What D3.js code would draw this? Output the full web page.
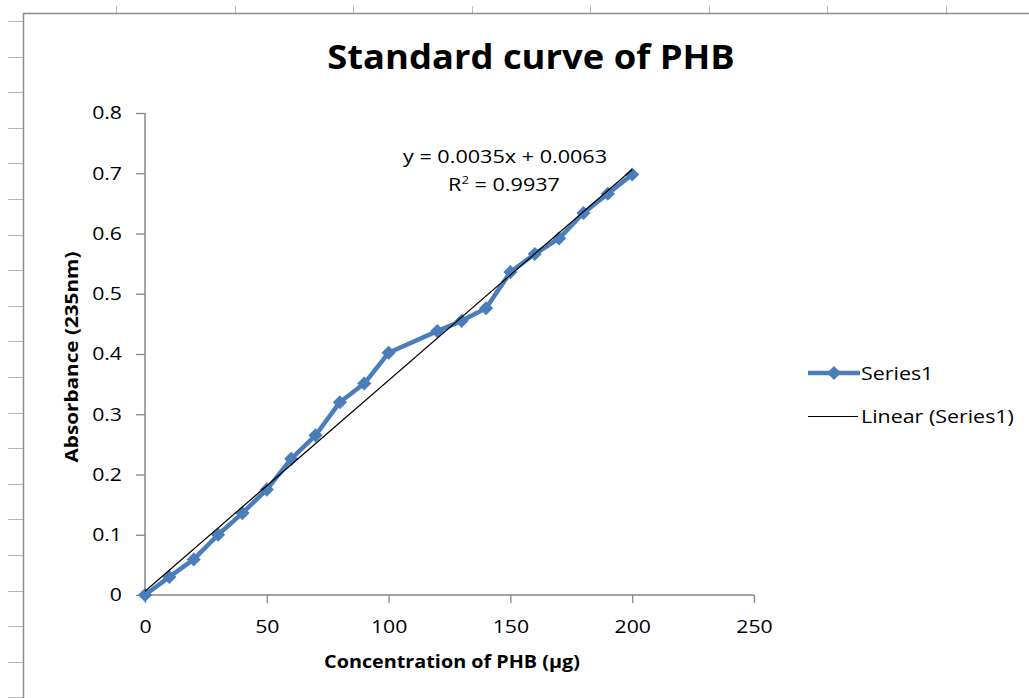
<!DOCTYPE html>
<meta charset="utf-8">
<style>
    body { margin: 0; background: #fff; }
    text { font-family: "Open Sans", sans-serif; fill: #000; }
</style>
<script src="https://d3js.org/d3.v7.min.js"></script>
<svg id="chart" width="1029" height="698"></svg>
<script>
    // measured values (concentration in µg, absorbance at 235nm)
    var concentration = [0, 10, 20, 30, 40, 50, 60, 70, 80, 90, 100, 120, 130, 140, 150, 160, 170, 180, 190, 200];
    var absorbance = [0, 0.030, 0.059, 0.100, 0.136, 0.175, 0.226, 0.265, 0.320, 0.351, 0.402, 0.438, 0.455, 0.476, 0.536, 0.566, 0.592, 0.634, 0.666, 0.698];
    var xTicks = [0, 50, 100, 150, 200, 250];
    var yTicks = [0, 0.1, 0.2, 0.3, 0.4, 0.5, 0.6, 0.7, 0.8];
    var slope = 0.0035, intercept = 0.0063;

    var svg = d3.select("#chart");
    var blue = "#4A7EBB";

    // the screenshot text is a bit wide, so stretch glyphs horizontally
    function label(txt, px, py, size, stretch, opts) {
        opts = opts || {};
        var t = svg.append("text")
            .attr("transform", "translate(" + px + "," + py + ")" + (opts.rotate ? " rotate(" + opts.rotate + ")" : "") + " scale(" + stretch + ",1)")
            .attr("text-anchor", opts.anchor || "middle")
            .style("font-size", size + "px")
            .style("font-weight", opts.bold ? "bold" : null);
        if (txt !== null) t.text(txt);
        return t;
    }

    // spreadsheet grid behind the chart
    var sheet = svg.append("g").attr("stroke", "#b8b8b8").attr("stroke-width", 1);
    d3.range(0, 20).forEach(function(i) {
        var y = Math.round(21 + i * 35.6) + 0.5;
        sheet.append("line").attr("x1", 8).attr("x2", 23).attr("y1", y).attr("y2", y);
    });
    d3.range(0, 8).forEach(function(i) {
        var x = Math.round(116 + i * 118.5) + 0.5;
        sheet.append("line").attr("x1", x).attr("x2", x).attr("y1", 6).attr("y2", 13);
    });
    // chart area border (left + top visible)
    svg.append("path")
        .attr("d", "M23.5,698 V13.5 H1029")
        .attr("fill", "none")
        .attr("stroke", "#8c8c8c")
        .attr("stroke-width", 1.5);

    var x = d3.scaleLinear().domain([0, 250]).range([145, 754]);
    var y = d3.scaleLinear().domain([0, 0.8]).range([595, 113]);

    var tickStretch = 1.18;
    // y axis
    var yAxis = svg.append("g")
        .attr("transform", "translate(145,0)")
        .call(d3.axisLeft(y).tickValues(yTicks).tickSize(9).tickPadding(14)
            .tickFormat(function(d) { return d === 0 ? "0" : d3.format(".1f")(d); }));
    // x axis
    var xAxis = svg.append("g")
        .attr("transform", "translate(0,595)")
        .call(d3.axisBottom(x).tickValues(xTicks).tickSize(8).tickPadding(17));

    [yAxis, xAxis].forEach(function(a) {
        a.select(".domain").attr("stroke", "#868686").attr("stroke-width", 1.5);
        a.selectAll(".tick line").attr("stroke", "#868686").attr("stroke-width", 1.3);
        a.selectAll(".tick text").style("font-size", "18px").attr("fill", "#000")
            .attr("transform", "scale(" + tickStretch + ",1)");
        a.select(".domain").attr("d", a === yAxis ? "M0,113V595" : "M145,0H754");
    });
    yAxis.selectAll(".tick text").attr("x", -23 / tickStretch);
    xAxis.selectAll(".tick text").attr("dy", "0.71em");

    // data series
    var pts = concentration.map(function(c, i) { return [c, absorbance[i]]; });
    svg.append("path")
        .datum(pts)
        .attr("fill", "none")
        .attr("stroke", blue)
        .attr("stroke-width", 4.5)
        .attr("stroke-linejoin", "round")
        .attr("d", d3.line().x(function(d) { return x(d[0]); }).y(function(d) { return y(d[1]); }));

    var marker = d3.symbol().type(d3.symbolSquare).size(100);
    svg.append("g").selectAll("path")
        .data(pts)
        .enter().append("path")
        .attr("d", marker)
        .attr("transform", function(d) { return "translate(" + x(d[0]) + "," + y(d[1]) + ") rotate(45)"; })
        .attr("fill", blue);

    // linear trendline
    svg.append("line")
        .attr("x1", x(0)).attr("y1", y(intercept))
        .attr("x2", x(200)).attr("y2", y(slope * 200 + intercept))
        .attr("stroke", "#000")
        .attr("stroke-width", 1.2);

    // equation label
    label("y = 0.0035x + 0.0063", 505, 163, 18, 1.2);
    var r2 = label(null, 504, 191, 18, 1.2);
    r2.append("tspan").text("R");
    r2.append("tspan").attr("dy", -7).style("font-size", "11px").text("2");
    r2.append("tspan").attr("dy", 7).text(" = 0.9937");

    // titles
    label("Standard curve of PHB", 531, 69, 34, 1.07, { bold: true });
    label("Concentration of PHB (µg)", 452, 668, 18.5, 1.07, { bold: true });
    label("Absorbance (235nm)", 78, 357, 18.5, 1.12, { bold: true, rotate: -90 });

    // legend
    svg.append("line").attr("x1", 808).attr("x2", 860).attr("y1", 373).attr("y2", 373)
        .attr("stroke", blue).attr("stroke-width", 4.5);
    svg.append("path").attr("d", marker).attr("transform", "translate(834,373) rotate(45)").attr("fill", blue);
    label("Series1", 861, 379.5, 18, 1.19, { anchor: "start" });
    svg.append("line").attr("x1", 808).attr("x2", 858).attr("y1", 416.5).attr("y2", 416.5)
        .attr("stroke", "#000").attr("stroke-width", 1.2);
    label("Linear (Series1)", 861, 423, 18, 1.19, { anchor: "start" });
</script>
